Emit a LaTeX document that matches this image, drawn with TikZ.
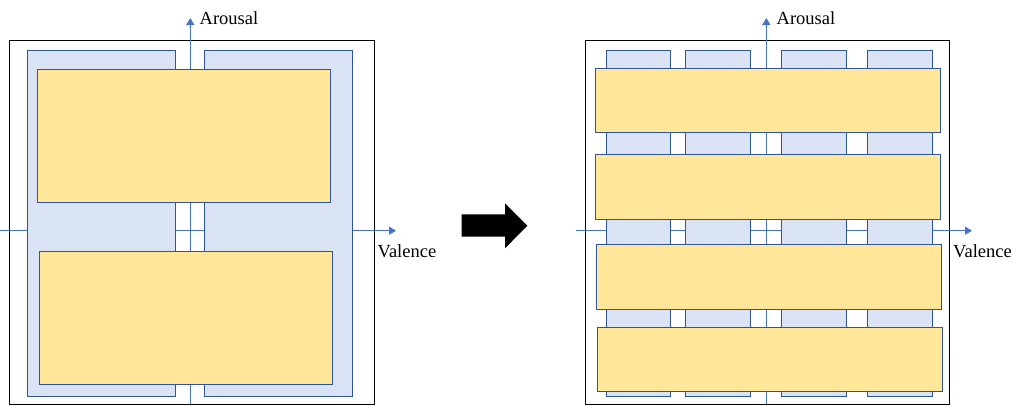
\documentclass[tikz,border=0pt]{standalone}
\usepackage{fontspec}
\setmainfont{Liberation Serif}
\usepackage{tikz}
\usetikzlibrary{arrows.meta}

\definecolor{cellblue}{HTML}{DAE3F3}
\definecolor{edgeblue}{HTML}{2F5597}
\definecolor{axisblue}{HTML}{4472C4}
\definecolor{bandyellow}{HTML}{FFE699}

\begin{document}
\begin{tikzpicture}[x=1pt, y=-1pt, >={Triangle[width=8pt,length=7pt]},
		frame/.style={rectangle, draw=black, line width=1pt, inner sep=0pt, outer sep=0pt},
		cell/.style={rectangle, draw=edgeblue, fill=cellblue, line width=1pt, inner sep=0pt, outer sep=0pt, minimum height=346pt},
		band/.style={rectangle, draw=edgeblue, fill=bandyellow, line width=1pt, inner sep=0pt, outer sep=0pt},
		axis/.style={draw=axisblue, line width=0.8pt},
		axlabel/.style={font=\fontsize{18.5}{22}\selectfont, inner sep=0pt, anchor=base west}]
		
		\useasboundingbox (0,0) rectangle (1016,405);
		
		% Cadres
		\node[frame, minimum width=365pt, minimum height=364pt] (boxL) at (191.5,222) {};
		\node[frame, minimum width=363.6pt, minimum height=364pt] (boxR) at (767.5,222) {};
		
		% Axes (gauche)
		\coordinate (vLb) at (190.3,404);
		\coordinate (vLt) at (190.3,18);
		\coordinate (hLa) at (0,230.7);
		\coordinate (hLb) at (396,230.7);
		\draw[axis, ->] (vLb) -- (vLt);
		\draw[axis, ->] (hLa) -- (hLb);
		\node[axlabel] (arL) at (199.5,24) {Arousal};
		\node[axlabel] (vaL) at (377.5,257) {Valence};
		
		% Axes (droite)
		\coordinate (vRb) at (766.3,404);
		\coordinate (vRt) at (766.3,18);
		\coordinate (hRa) at (576,230.7);
		\coordinate (hRb) at (972,230.7);
		\draw[axis, ->] (vRb) -- (vRt);
		\draw[axis, ->] (hRa) -- (hRb);
		\node[axlabel] (arR) at (776.5,24) {Arousal};
		\node[axlabel] (vaR) at (953,257) {Valence};
		
		% Colonnes bleues (gauche)
		\node[cell, minimum width=147.7pt] (cL1) at (101.2,223) {};
		\node[cell, minimum width=148pt] (cL2) at (278.3,223) {};
		
		% Bandes jaunes (gauche)
		\node[band, minimum width=292.7pt, minimum height=133pt] (bL1) at (184.3,135.8) {};
		\node[band, minimum width=292.7pt, minimum height=132.6pt] (bL2) at (186.3,318) {};
		
		% Colonnes bleues (droite)
		\node[cell, minimum width=64pt] (cR1) at (638.7,223) {};
		\node[cell, minimum width=64.7pt] (cR2) at (718.3,223) {};
		\node[cell, minimum width=65.4pt] (cR3) at (814,223) {};
		\node[cell, minimum width=65pt] (cR4) at (900.2,223) {};
		
		% Bandes jaunes (droite)
		\node[band, minimum width=345.3pt, minimum height=64.4pt] (bR1) at (767.7,100.5) {};
		\node[band, minimum width=345.3pt, minimum height=64.7pt] (bR2) at (767.7,186.7) {};
		\node[band, minimum width=344.6pt, minimum height=64.7pt] (bR3) at (769,277.3) {};
		\node[band, minimum width=344.7pt, minimum height=64.4pt] (bR4) at (770.3,359.5) {};
		
		% Fleche de transition
		\fill[black] (461.7,214.3) -- (505,214.3) -- (505,203.3) -- (527.3,225.8)
			-- (505,248.3) -- (505,236.7) -- (461.7,236.7) -- cycle;
		
	\end{tikzpicture}
\end{document}
